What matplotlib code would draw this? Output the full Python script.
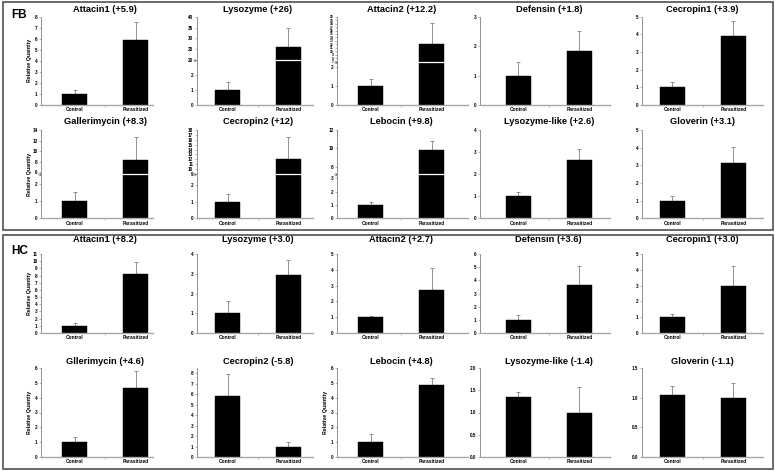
import numpy as np
import matplotlib
matplotlib.use("Agg")
import matplotlib.pyplot as plt
from matplotlib.patches import Rectangle
from matplotlib.ticker import NullLocator, FixedLocator
from matplotlib.transforms import blended_transform_factory

plt.rcParams["font.family"] = ["Liberation Sans", "DejaVu Sans"]
plt.rcParams["font.weight"] = "bold"

groups = ["Control", "Parasitized"]

# fat body (FB)
fb_titles = ["Attacin1 (+5.9)", "Lysozyme (+26)", "Attacin2 (+12.2)", "Defensin (+1.8)",
             "Cecropin1 (+3.9)", "Gallerimycin (+8.3)", "Cecropin2 (+12)", "Lebocin (+9.8)",
             "Lysozyme-like (+2.6)", "Gloverin (+3.1)"]
fb_means = [[1.0, 5.9], [1.0, 26.2], [1.0, 12.2], [1.0, 1.83], [1.0, 3.93],
            [1.0, 8.3], [1.0, 12.0], [1.0, 9.8], [1.0, 2.65], [1.0, 3.12]]
fb_errs = [[0.38, 1.65], [0.55, 8.5], [0.37, 5.9], [0.45, 0.69], [0.28, 0.85],
           [0.55, 4.3], [0.47, 4.5], [0.22, 1.0], [0.18, 0.5], [0.27, 0.91]]
fb_ymax = [8, 40, 20, 3, 5, 14, 18, 12, 4, 5]
fb_ticks = [list(range(0, 9)), [0, 1, 2, 20, 25, 30, 35, 40], [0, 1, 2] + list(range(7, 21)),
            [0, 1, 2, 3], [0, 1, 2, 3, 4, 5], [0, 1, 2, 6, 8, 10, 12, 14],
            [0, 1, 2] + list(range(9, 19)), [0, 1, 2, 3, 8, 10, 12], [0, 1, 2, 3, 4],
            [0, 1, 2, 3, 4, 5]]

# hemocytes (HC)
hc_titles = ["Attacin1 (+8.2)", "Lysozyme (+3.0)", "Attacin2 (+2.7)", "Defensin (+3.6)",
             "Cecropin1 (+3.0)", "Gllerimycin (+4.6)", "Cecropin2 (-5.8)", "Lebocin (+4.8)",
             "Lysozyme-like (-1.4)", "Gloverin (-1.1)"]
hc_means = [[1.0, 8.2], [1.0, 2.95], [1.0, 2.7], [1.0, 3.65], [1.0, 2.95],
            [1.0, 4.65], [5.8, 1.0], [1.0, 4.85], [1.35, 1.0], [1.05, 1.0]]
hc_errs = [[0.4, 1.65], [0.6, 0.77], [0.05, 1.4], [0.37, 1.45], [0.22, 1.3],
           [0.33, 1.15], [2.1, 0.4], [0.55, 0.45], [0.1, 0.57], [0.15, 0.25]]
hc_ymax = [11, 4, 5, 6, 5, 6, 8.5, 6, 2.0, 1.5]
hc_ticks = [list(range(0, 12)), [0, 1, 2, 3, 4], [0, 1, 2, 3, 4, 5], list(range(0, 7)),
            [0, 1, 2, 3, 4, 5], list(range(0, 7)), list(range(0, 9)), list(range(0, 7)),
            [0.0, 0.5, 1.0, 1.5, 2.0], [0.0, 0.5, 1.0, 1.5]]

# broken y axes in FB: index -> (value at break, upper start, upper/lower scale ratio)
fb_breaks = {1: (3.0, 20, 0.145), 2: (2.22, 6.8, 0.18), 5: (2.6, 5.6, 0.309),
             6: (2.6, 8.95, 0.288), 7: (3.3, 7.2, 0.69)}

W, H = 777, 472
fig = plt.figure(figsize=(W / 100, H / 100), dpi=100)

# pixel layout: (spine x, control x, parasitized x, right end)
cols = [(41, 74.7, 135.5, 153), (196.7, 227.5, 288.3, 313), (337, 370.8, 431.5, 468),
        (480, 518.3, 579.2, 610), (641.7, 672.3, 733.2, 763)]
rows = [(16.7, 105), (130, 218.5), (254, 333), (368, 457)]
title_y = [10, 121.7, 240, 361.7]
grey = "#808080"


def break_scale(lo_top, hi_bot, r):
    big = 1e4
    xp = [-big, lo_top, hi_bot, hi_bot + big]
    fp = [-big, lo_top, lo_top + 1e-6, lo_top + 1e-6 + big * r]
    return (lambda v: np.interp(v, xp, fp)), (lambda v: np.interp(v, fp, xp))


def panel(row, col, title, means, errs, ymax, ticks, brk=None, ylabel=False):
    sx, cx, px, ex = cols[col]
    top, bot = rows[row]
    ax = fig.add_axes([sx / W, 1 - bot / H, (ex - sx) / W, (bot - top) / H])
    step = px - cx
    ax.set_xlim((sx - cx) / step, (ex - cx) / step)
    if brk is not None:
        fwd, inv = break_scale(*brk)
        ax.set_yscale("function", functions=(fwd, inv))
    ax.set_ylim(0, ymax)

    x = np.arange(2)
    ax.bar(x, means, width=0.41, color="black", edgecolor="black", lw=0.3, zorder=2)
    ax.errorbar(x, means, yerr=[np.zeros(2), errs], fmt="none", ecolor=grey,
                elinewidth=0.6, capsize=1.3, capthick=0.6, zorder=1)

    for s in ["top", "right"]:
        ax.spines[s].set_visible(False)
    ax.spines["left"].set_color(grey)
    ax.spines["left"].set_linewidth(0.6)
    ax.spines["bottom"].set_color("#a8a8a8")
    ax.spines["bottom"].set_linewidth(1.0)

    ax.set_xticks(x)
    ax.set_xticklabels(groups, fontsize=3.5, fontweight="bold")
    ax.xaxis.set_minor_locator(FixedLocator([0.5]))
    ax.tick_params(axis="x", which="major", length=0, pad=1.5)
    ax.tick_params(axis="x", which="minor", length=1.5, width=0.4, color=grey)

    ax.yaxis.set_major_locator(FixedLocator(ticks))
    ax.yaxis.set_minor_locator(NullLocator())
    if isinstance(ticks[1], float):
        ax.set_yticklabels([f"{t:.1f}" for t in ticks])
    else:
        ax.set_yticklabels([str(t) for t in ticks])
    ax.tick_params(axis="y", length=1.5, width=0.4, color=grey, labelsize=3.3, pad=1)

    if brk is not None:
        # upper ticks that sit close together get smaller labels
        upper = [t for t in ticks if t >= brk[1]]
        if len(upper) > 1:
            gap_px = (bot - top) * (upper[1] - upper[0]) * brk[2] / (
                brk[0] + (ymax - brk[1]) * brk[2])
            if gap_px < 4.5:
                for lab, t in zip(ax.get_yticklabels(), ticks):
                    if t >= brk[1]:
                        lab.set_fontsize(2.3)
        ax.plot([1 - 0.205, 1 + 0.205], [brk[0], brk[0]], color="white", lw=0.9, zorder=4)
        ax.text(0, brk[0], "≈", transform=blended_transform_factory(ax.transAxes, ax.transData),
                ha="center", va="center", fontsize=4, rotation=60, color="#444444")

    tr = blended_transform_factory(ax.transData, fig.transFigure)
    ax.text(0.5, 1 - title_y[row] / H, title, transform=tr, ha="center", va="center",
            fontsize=6.7, fontweight="bold")
    if ylabel:
        fig.text((sx - 11) / W, 1 - (top + bot) / 2 / H, "Relative Quantity", rotation=90,
                 ha="center", va="center", fontsize=3.8, fontweight="bold")
    return ax


for i in range(10):
    r, c = divmod(i, 5)
    panel(r, c, fb_titles[i], fb_means[i], fb_errs[i], fb_ymax[i], fb_ticks[i],
          brk=fb_breaks.get(i), ylabel=(c == 0))
for i in range(10):
    r, c = divmod(i, 5)
    panel(r + 2, c, hc_titles[i], hc_means[i], hc_errs[i], hc_ymax[i], hc_ticks[i],
          ylabel=(c == 0 or (r == 1 and c == 2)))

# panel boxes
for y0, y1 in [(2, 230), (235, 468.5)]:
    fig.add_artist(Rectangle((3 / W, 1 - y1 / H), 770 / W, (y1 - y0) / H, transform=fig.transFigure,
                             fill=False, ec="#505050", lw=1.2))
fig.text(11 / W, 1 - 15.5 / H, "FB", fontsize=8.5, fontweight="bold", va="center", ha="left")
fig.text(11 / W, 1 - 251 / H, "HC", fontsize=8.5, fontweight="bold", va="center", ha="left")

fig.savefig("out.png", dpi=100)
